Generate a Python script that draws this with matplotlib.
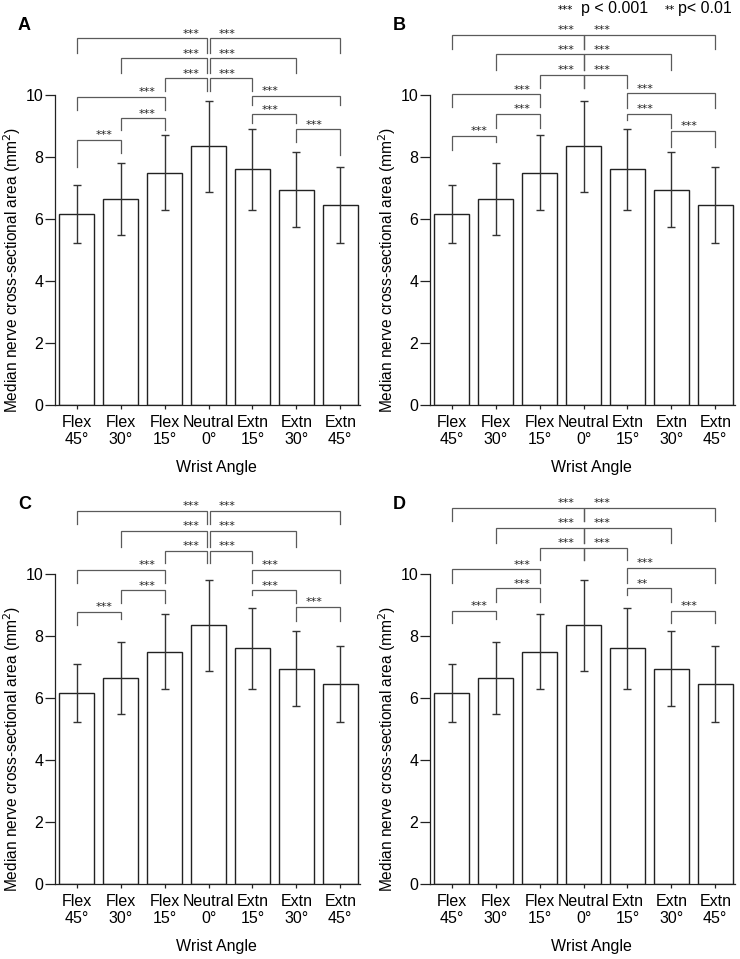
import matplotlib
matplotlib.use("Agg")
import matplotlib.pyplot as plt

plt.rcParams['font.family'] = ['Liberation Sans', 'DejaVu Sans']

# ---- data ----
categories = ['Flex\n45°', 'Flex\n30°', 'Flex\n15°', 'Neutral\n0°',
              'Extn\n15°', 'Extn\n30°', 'Extn\n45°']
csa_mean = [6.17, 6.65, 7.50, 8.35, 7.60, 6.95, 6.45]
csa_sd = [0.93, 1.17, 1.22, 1.47, 1.30, 1.22, 1.22]

panel_letters = ['A', 'B', 'C', 'D']

comparisons = [(0, 3), (3, 6), (1, 3), (3, 5), (2, 3), (3, 4),
               (0, 2), (1, 2), (0, 1), (4, 6), (4, 5), (5, 6)]

sig_A = ['***'] * 12
sig_B = ['***'] * 12
sig_C = ['***'] * 12
sig_D = ['***'] * 10 + ['**', '***']

bracket_y_A = [11.83, 11.83, 11.18, 11.18, 10.54, 10.54, 9.95, 9.25, 8.55, 9.97, 9.38, 8.89]
bracket_y_B = [11.94, 11.94, 11.31, 11.31, 10.65, 10.65, 10.03, 9.39, 8.69, 10.05, 9.39, 8.84]
bracket_y_C = [12.04, 12.04, 11.40, 11.40, 10.75, 10.75, 10.13, 9.48, 8.78, 10.13, 9.48, 8.95]
bracket_y_D = [12.14, 12.14, 11.49, 11.49, 10.85, 10.85, 10.15, 9.54, 8.81, 10.20, 9.54, 8.81]

leg_left_A = [11.35, 11.35, 10.70, 10.70, 10.13, 10.13, 9.52, 8.87, 7.69, 9.68, 9.10, 8.49]
leg_right_A = [11.35, 11.35, 10.70, 10.70, 10.13, 10.13, 9.52, 8.87, 8.13, 9.68, 9.10, 8.06]
leg_left_B = [11.50, 11.50, 10.81, 10.81, 10.21, 10.21, 9.60, 8.92, 8.23, 9.57, 9.19, 8.33]
leg_right_B = [11.50, 11.50, 10.81, 10.81, 10.21, 10.21, 9.60, 8.92, 8.50, 9.57, 8.92, 8.33]
leg_left_C = [11.60, 11.60, 10.88, 10.88, 10.34, 10.34, 9.70, 9.05, 8.35, 9.70, 9.32, 8.48]
leg_right_C = [11.60, 11.60, 10.88, 10.88, 10.34, 10.34, 9.70, 9.05, 8.55, 9.70, 9.05, 8.48]
leg_left_D = [11.71, 11.71, 10.99, 10.99, 10.45, 10.45, 9.70, 9.09, 8.41, 9.70, 9.32, 8.41]
leg_right_D = [11.71, 11.71, 10.99, 10.99, 10.45, 10.45, 9.70, 9.09, 8.55, 9.70, 9.09, 8.41]

panels = [
    (sig_A, bracket_y_A, leg_left_A, leg_right_A, 0.035),
    (sig_B, bracket_y_B, leg_left_B, leg_right_B, 0.0),
    (sig_C, bracket_y_C, leg_left_C, leg_right_C, 0.035),
    (sig_D, bracket_y_D, leg_left_D, leg_right_D, 0.0),
]

W, H = 740, 959
fig = plt.figure(figsize=(W / 100, H / 100), dpi=100)

ax_left_px = [55, 430, 55, 430]
ax_zero_px = [405, 405, 884, 884]
ax_w_px = 305
ymax = 12.4
px_per_unit = 31.0
ax_h_px = ymax * px_per_unit

line_col = '#222222'
br_col = '#5a5a5a'
star_font = ['DejaVu Sans']

for k in range(4):
    sig, by, ll, lr, gap = panels[k]
    left = ax_left_px[k] / W
    bottom = (H - ax_zero_px[k]) / H
    ax = fig.add_axes([left, bottom, ax_w_px / W, ax_h_px / H])
    x = list(range(len(categories)))
    ax.bar(x, csa_mean, width=0.8, color='white', edgecolor=line_col,
           linewidth=1.0, zorder=2)
    ax.errorbar(x, csa_mean, yerr=csa_sd, fmt='none', ecolor='#333333',
                elinewidth=1.0, capsize=2.6, capthick=1.0, zorder=3)
    ax.set_xlim(-0.5, 6.45)
    ax.set_ylim(0, ymax)
    ax.set_yticks([0, 2, 4, 6, 8, 10])
    ax.set_xticks(x)
    ax.set_xticklabels(categories, fontsize=11.5, linespacing=1.2)
    ax.tick_params(axis='y', labelsize=11.5, length=7, width=0.9, pad=1.5, color=line_col)
    ax.tick_params(axis='x', length=3, width=0.9, pad=4, color=line_col)
    for s in ['top', 'right']:
        ax.spines[s].set_visible(False)
    ax.spines['left'].set_bounds(0, 10)
    for s in ['left', 'bottom']:
        ax.spines[s].set_linewidth(0.9)
        ax.spines[s].set_color(line_col)
    ax.set_xlabel('Wrist Angle', fontsize=11.5)
    ax.xaxis.set_label_coords(0.528, -0.143)
    ax.set_ylabel('Median nerve cross-sectional area (mm$^2$)', fontsize=11.2)
    ax.yaxis.set_label_coords(-0.105, 0.35)

    for n, (i, j) in enumerate(comparisons):
        xi, xj = float(i), float(j)
        if i == 3:
            xi += gap
        if j == 3:
            xj -= gap
        ax.plot([xi, xi, xj, xj], [ll[n], by[n], by[n], lr[n]],
                color=br_col, lw=0.9, clip_on=False, zorder=4,
                solid_joinstyle='miter')
        if j <= 3:
            ax.text(j - 0.2, by[n] + 0.05, sig[n], ha='right', va='baseline',
                    fontsize=8, color='#222222', clip_on=False, family=star_font)
        else:
            ax.text(i + 0.22, by[n] + 0.05, sig[n], ha='left', va='baseline',
                    fontsize=8, color='#222222', clip_on=False, family=star_font)

# panel letters
letter_pos = [(18, 30), (393, 30), (18, 509), (393, 509)]
for (px, py), letter in zip(letter_pos, panel_letters):
    fig.text(px / W, 1 - py / H, letter, fontsize=13, fontweight='bold',
             ha='left', va='baseline')

# significance legend
fig.text(558 / W, 1 - 13 / H, '***', fontsize=7.5, ha='left', va='baseline', family=star_font)
fig.text(581 / W, 1 - 13 / H, 'p < 0.001', fontsize=11.5, ha='left', va='baseline')
fig.text(665 / W, 1 - 13 / H, '**', fontsize=7.5, ha='left', va='baseline', family=star_font)
fig.text(678 / W, 1 - 13 / H, 'p< 0.01', fontsize=11.5, ha='left', va='baseline')

fig.savefig('out.png', dpi=100)
